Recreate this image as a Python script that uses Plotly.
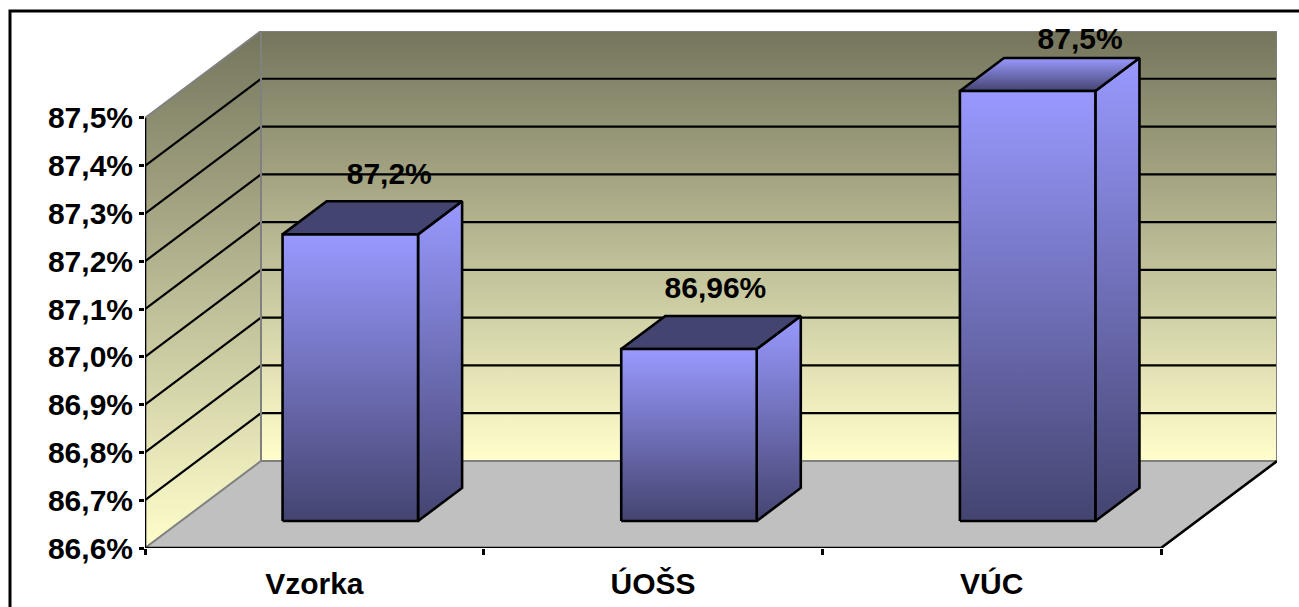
import plotly.graph_objects as go

# ---- data ----
categories = ["Vzorka", "ÚOŠS", "VÚC"]
values = [87.2, 86.96, 87.5]
value_labels = ["87,2%", "86,96%", "87,5%"]
y_ticks = [86.6, 86.7, 86.8, 86.9, 87.0, 87.1, 87.2, 87.3, 87.4, 87.5]
y_tick_labels = ["86,6%", "86,7%", "86,8%", "86,9%", "87,0%", "87,1%", "87,2%", "87,3%", "87,4%", "87,5%"]
x_ticks = [0, 1, 2, 3]

# ---- chart geometry (oblique 3-D projection) ----
Y_MIN, Y_MAX = y_ticks[0], y_ticks[-1]
N = len(categories)
PX_PER_CAT = 338.67
PX_PER_VAL = 477.8
DEPTH_X = 116 / PX_PER_CAT
DEPTH_Y = 87 / PX_PER_VAL
BAR_HALF = 0.2
BAR_D0, BAR_D1 = 0.31, 0.69
LABEL_DX = [0.05, 0.013, 0.09]
LABEL_DY = [0.0, 0.0, -0.018]
LABEL_LIFT = 0.178

WALL_TOP, WALL_BOTTOM = "#75755d", "#ffffcc"
BAR_LIGHT, BAR_DARK = "#9999ff", "#444470"
EDGE_GRAY = "#808080"
FLOOR = "#c0c0c0"


def proj(c, v, d=0.0):
    return c + d * DEPTH_X, v + d * DEPTH_Y


def poly(pts, grad=None, fill=None, line=None, width=0):
    xs = [p[0] for p in pts] + [pts[0][0]]
    ys = [p[1] for p in pts] + [pts[0][1]]
    kw = dict(x=xs, y=ys, mode="lines", fill="toself", hoverinfo="skip",
              showlegend=False, cliponaxis=False,
              line=dict(color=line or "rgba(0,0,0,0)", width=width))
    if grad:
        kw["fillgradient"] = dict(type="vertical",
                                  colorscale=[[0, grad[1]], [1, grad[0]]])
        kw["fillcolor"] = "rgba(0,0,0,0)"
    else:
        kw["fillcolor"] = fill
    return go.Scatter(**kw)


def path(pts, color, width):
    return go.Scatter(x=[p[0] for p in pts], y=[p[1] for p in pts], mode="lines",
                      line=dict(color=color, width=width), hoverinfo="skip",
                      showlegend=False, cliponaxis=False)


fig = go.Figure()

# walls and floor
fig.add_trace(poly([proj(0, Y_MIN), proj(0, Y_MAX), proj(0, Y_MAX, 1), proj(0, Y_MIN, 1)],
                   grad=(WALL_TOP, WALL_BOTTOM)))
fig.add_trace(poly([proj(0, Y_MIN, 1), proj(0, Y_MAX, 1), proj(N, Y_MAX, 1), proj(N, Y_MIN, 1)],
                   grad=(WALL_TOP, WALL_BOTTOM)))
fig.add_trace(poly([proj(0, Y_MIN), proj(0, Y_MIN, 1), proj(N, Y_MIN, 1), proj(N, Y_MIN)], fill=FLOOR))

# gridlines
for v in y_ticks[1:-1]:
    fig.add_trace(path([proj(0, v), proj(0, v, 1), proj(N, v, 1)], "#000000", 2.2))

# wall edges
fig.add_trace(path([proj(0, Y_MAX), proj(0, Y_MAX, 1), proj(N, Y_MAX, 1), proj(N, Y_MIN, 1),
                    proj(0, Y_MIN, 1), proj(0, Y_MIN)], EDGE_GRAY, 2))
fig.add_trace(path([proj(0, Y_MAX, 1), proj(0, Y_MIN, 1)], EDGE_GRAY, 2))

# axes edges
fig.add_trace(path([proj(0, Y_MAX), proj(0, Y_MIN), proj(N, Y_MIN), proj(N, Y_MIN, 1)], "#000000", 2.6))

# bars
for i, v in enumerate(values):
    x0, x1 = i + 0.5 - BAR_HALF, i + 0.5 + BAR_HALF
    top_grad = (BAR_LIGHT, BAR_DARK) if v >= Y_MAX else None
    fig.add_trace(poly([proj(x1, Y_MIN, BAR_D0), proj(x1, v, BAR_D0), proj(x1, v, BAR_D1), proj(x1, Y_MIN, BAR_D1)],
                       grad=(BAR_LIGHT, BAR_DARK), line="#000000", width=2.6))
    fig.add_trace(poly([proj(x0, v, BAR_D0), proj(x0, v, BAR_D1), proj(x1, v, BAR_D1), proj(x1, v, BAR_D0)],
                       grad=top_grad, fill=None if top_grad else BAR_DARK, line="#000000", width=2.6))
    fig.add_trace(poly([proj(x0, Y_MIN, BAR_D0), proj(x0, v, BAR_D0), proj(x1, v, BAR_D0), proj(x1, Y_MIN, BAR_D0)],
                       grad=(BAR_LIGHT, BAR_DARK), line="#000000", width=2.6))

# data labels
fig.add_trace(go.Scatter(
    x=[i + 0.5 + (BAR_D0 + BAR_D1) / 2 * DEPTH_X + LABEL_DX[i] for i in range(N)],
    y=[v + LABEL_LIFT + LABEL_DY[i] for i, v in enumerate(values)],
    mode="text", text=value_labels, textposition="middle center",
    textfont=dict(family="Liberation Sans", size=30, color="#000000", weight="bold"),
    hoverinfo="skip", showlegend=False, cliponaxis=False))

W, H = 1299, 607
L, R, T, B = 145, 22, 31, 59
plot_w, plot_h = W - L - R, H - T - B
fig.update_layout(
    width=W, height=H, margin=dict(l=L, r=R, t=T, b=B, pad=0, autoexpand=False),
    paper_bgcolor="#ffffff", plot_bgcolor="#ffffff", separators=",.", showlegend=False,
    font=dict(family="Liberation Sans", size=30, color="#000000", weight="bold"),
    xaxis=dict(range=[0, plot_w / PX_PER_CAT], showgrid=False, zeroline=False, showline=False,
               automargin=False,
               tickmode="array", tickvals=[i + 0.5 for i in range(N)], ticktext=categories,
               ticks="", ticklabelstandoff=15,
               minor=dict(tickmode="array", tickvals=x_ticks, ticks="outside", ticklen=6,
                          tickwidth=2.6, tickcolor="#000000", showgrid=False)),
    yaxis=dict(range=[Y_MIN, Y_MIN + plot_h / PX_PER_VAL], showgrid=False, zeroline=False, showline=False,
               automargin=False,
               tickmode="array", tickvals=y_ticks, ticktext=y_tick_labels,
               ticks="outside", ticklen=5, tickwidth=2.6, tickcolor="#000000", ticklabelstandoff=0),
    shapes=[dict(type="rect", xref="paper", yref="paper",
                 x0=(10 - L) / plot_w, x1=(W + 20 - L) / plot_w,
                 y0=(H - B - (H + 20)) / plot_h, y1=(H - B - 11) / plot_h,
                 line=dict(color="#000000", width=3), fillcolor="rgba(0,0,0,0)", layer="below")],
)
fig.write_html("out.html", config={"displayModeBar": False},
               post_script="document.body.style.margin='0';")
